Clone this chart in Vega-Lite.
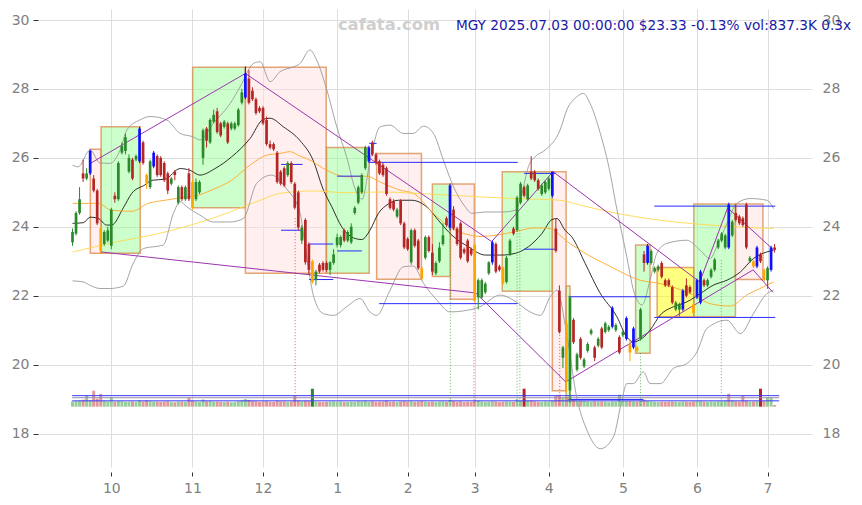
{
"$schema":"https://vega.github.io/schema/vega-lite/v6.json",
"width":774,"height":458,
"autosize":{"type":"none"},
"padding":{"left":38,"top":9,"right":50,"bottom":38},
"background":"white",
"config":{"view":{"stroke":null},"axis":{"labelColor":"#808080","labelFontSize":14,"labelFont":"DejaVu Sans","gridColor":"#dddddd","domain":false,"tickColor":"#333333","title":null},"scale":{"continuousPadding":0}},
"datasets":{
"cd":[
{"i":0,"o":23.55,"h":23.95,"l":23.45,"c":23.85,"t":"u","v":2.6,"vc":"g"},
{"i":1,"o":23.8,"h":24.45,"l":23.75,"c":24.4,"t":"u","v":2.8,"vc":"g"},
{"i":2,"o":24.4,"h":25.15,"l":24.35,"c":24.8,"t":"u","v":3.0,"vc":"g"},
{"i":3,"o":25.55,"h":25.95,"l":25.3,"c":25.4,"t":"d","v":3.5,"vc":"r"},
{"i":4,"o":25.4,"h":25.7,"l":25.35,"c":25.55,"t":"u","v":5.6,"vc":"g"},
{"i":5,"o":25.55,"h":26.25,"l":25.5,"c":26.2,"t":"b","v":3.2,"vc":"g"},
{"i":6,"o":25.4,"h":25.5,"l":25.0,"c":25.05,"t":"d","v":8.0,"vc":"r"},
{"i":7,"o":25.05,"h":25.1,"l":24.05,"c":24.1,"t":"d","v":4.0,"vc":"r"},
{"i":8,"o":23.95,"h":24.0,"l":23.23,"c":23.3,"t":"o","v":6.4,"vc":"r"},
{"i":9,"o":23.5,"h":23.9,"l":23.45,"c":23.85,"t":"u","v":3.0,"vc":"g"},
{"i":10,"o":23.6,"h":24.0,"l":23.55,"c":23.9,"t":"u","v":2.6,"vc":"g"},
{"i":11,"o":23.45,"h":24.55,"l":23.35,"c":24.5,"t":"u","v":4.8,"vc":"g"},
{"i":12,"o":24.9,"h":25.0,"l":24.7,"c":24.8,"t":"d","v":2.5,"vc":"r"},
{"i":13,"o":24.8,"h":25.9,"l":24.75,"c":25.85,"t":"u","v":2.8,"vc":"g"},
{"i":14,"o":26.15,"h":26.45,"l":26.1,"c":26.35,"t":"u","v":2.7,"vc":"g"},
{"i":15,"o":26.2,"h":26.7,"l":26.1,"c":26.6,"t":"u","v":2.4,"vc":"g"},
{"i":16,"o":25.6,"h":26.1,"l":25.55,"c":26.0,"t":"u","v":2.5,"vc":"g"},
{"i":17,"o":25.95,"h":26.0,"l":25.35,"c":25.4,"t":"d","v":2.6,"vc":"r"},
{"i":18,"o":25.95,"h":26.1,"l":25.9,"c":26.05,"t":"u","v":2.3,"vc":"g"},
{"i":19,"o":25.9,"h":26.9,"l":25.85,"c":26.85,"t":"b","v":3.1,"vc":"g"},
{"i":20,"o":26.45,"h":26.5,"l":25.8,"c":25.85,"t":"d","v":2.6,"vc":"r"},
{"i":21,"o":25.5,"h":25.55,"l":25.1,"c":25.25,"t":"o","v":3.2,"vc":"r"},
{"i":22,"o":25.15,"h":25.95,"l":25.1,"c":25.9,"t":"u","v":2.7,"vc":"g"},
{"i":23,"o":25.75,"h":26.2,"l":25.7,"c":26.15,"t":"b","v":2.5,"vc":"g"},
{"i":24,"o":26.05,"h":26.1,"l":25.45,"c":25.5,"t":"d","v":2.6,"vc":"r"},
{"i":25,"o":26.0,"h":26.05,"l":25.45,"c":25.5,"t":"d","v":2.4,"vc":"r"},
{"i":26,"o":25.85,"h":25.9,"l":25.3,"c":25.35,"t":"d","v":2.5,"vc":"r"},
{"i":27,"o":25.55,"h":25.6,"l":24.95,"c":25.05,"t":"d","v":2.7,"vc":"r"},
{"i":28,"o":25.25,"h":25.45,"l":25.2,"c":25.4,"t":"u","v":2.3,"vc":"g"},
{"i":29,"o":25.6,"h":25.65,"l":25.35,"c":25.5,"t":"d","v":2.2,"vc":"r"},
{"i":30,"o":24.7,"h":25.2,"l":24.65,"c":25.15,"t":"u","v":2.6,"vc":"g"},
{"i":31,"o":25.15,"h":25.2,"l":24.75,"c":24.8,"t":"d","v":2.5,"vc":"r"},
{"i":32,"o":24.8,"h":25.2,"l":24.75,"c":25.15,"t":"u","v":2.4,"vc":"g"},
{"i":33,"o":25.55,"h":25.7,"l":24.75,"c":24.8,"t":"d","v":4.4,"vc":"r"},
{"i":34,"o":25.3,"h":25.35,"l":24.5,"c":24.55,"t":"o","v":3.0,"vc":"r"},
{"i":35,"o":24.8,"h":25.4,"l":24.75,"c":25.3,"t":"u","v":2.6,"vc":"g"},
{"i":36,"o":25.0,"h":25.35,"l":24.95,"c":25.3,"t":"u","v":2.4,"vc":"g"},
{"i":37,"o":26.0,"h":26.85,"l":25.8,"c":26.8,"t":"u","v":3.6,"vc":"g"},
{"i":38,"o":26.85,"h":26.9,"l":26.3,"c":26.5,"t":"d","v":2.7,"vc":"r"},
{"i":39,"o":26.45,"h":27.15,"l":26.4,"c":27.1,"t":"u","v":2.8,"vc":"g"},
{"i":40,"o":27.05,"h":27.4,"l":27.0,"c":27.25,"t":"u","v":2.5,"vc":"g"},
{"i":41,"o":27.35,"h":27.45,"l":26.7,"c":26.75,"t":"d","v":2.6,"vc":"r"},
{"i":42,"o":27.0,"h":27.05,"l":26.6,"c":26.65,"t":"d","v":2.4,"vc":"r"},
{"i":43,"o":26.9,"h":27.1,"l":26.85,"c":27.05,"t":"u","v":2.3,"vc":"g"},
{"i":44,"o":27.0,"h":27.05,"l":26.4,"c":26.45,"t":"d","v":2.5,"vc":"r"},
{"i":45,"o":26.85,"h":27.05,"l":26.8,"c":27.0,"t":"u","v":2.2,"vc":"g"},
{"i":46,"o":26.85,"h":27.05,"l":26.8,"c":27.0,"t":"u","v":2.3,"vc":"g"},
{"i":47,"o":26.95,"h":27.45,"l":26.9,"c":27.4,"t":"u","v":2.7,"vc":"g"},
{"i":48,"o":27.6,"h":28.0,"l":27.55,"c":27.9,"t":"u","v":3.1,"vc":"g"},
{"i":49,"o":27.75,"h":28.65,"l":27.7,"c":28.45,"t":"b","v":3.8,"vc":"g"},
{"i":50,"o":28.3,"h":28.55,"l":27.55,"c":27.6,"t":"d","v":3.4,"vc":"r"},
{"i":51,"o":27.95,"h":28.05,"l":27.65,"c":27.7,"t":"d","v":2.8,"vc":"r"},
{"i":52,"o":27.7,"h":27.75,"l":27.25,"c":27.3,"t":"d","v":2.7,"vc":"r"},
{"i":53,"o":27.45,"h":27.5,"l":27.3,"c":27.35,"t":"d","v":2.4,"vc":"r"},
{"i":54,"o":27.45,"h":27.5,"l":26.95,"c":27.0,"t":"d","v":2.6,"vc":"r"},
{"i":55,"o":27.1,"h":27.2,"l":26.35,"c":26.4,"t":"d","v":2.8,"vc":"r"},
{"i":56,"o":26.4,"h":26.5,"l":26.25,"c":26.3,"t":"d","v":2.5,"vc":"r"},
{"i":57,"o":26.4,"h":26.45,"l":26.2,"c":26.25,"t":"d","v":2.4,"vc":"r"},
{"i":58,"o":26.15,"h":26.2,"l":25.25,"c":25.3,"t":"d","v":3.0,"vc":"r"},
{"i":59,"o":25.6,"h":25.65,"l":25.2,"c":25.25,"t":"d","v":2.6,"vc":"r"},
{"i":60,"o":25.7,"h":25.75,"l":25.15,"c":25.2,"t":"d","v":2.7,"vc":"r"},
{"i":61,"o":25.5,"h":25.9,"l":25.45,"c":25.85,"t":"u","v":2.4,"vc":"g"},
{"i":62,"o":25.85,"h":25.9,"l":25.25,"c":25.3,"t":"d","v":2.6,"vc":"r"},
{"i":63,"o":25.25,"h":25.3,"l":24.5,"c":24.55,"t":"d","v":5.5,"vc":"r"},
{"i":64,"o":25.0,"h":25.05,"l":23.9,"c":23.98,"t":"d","v":3.0,"vc":"r"},
{"i":65,"o":23.6,"h":24.05,"l":23.5,"c":23.98,"t":"u","v":2.7,"vc":"g"},
{"i":66,"o":24.2,"h":24.25,"l":22.9,"c":22.97,"t":"d","v":2.9,"vc":"r"},
{"i":67,"o":23.5,"h":23.55,"l":22.6,"c":22.75,"t":"d","v":2.8,"vc":"r"},
{"i":68,"o":23.0,"h":23.05,"l":22.35,"c":22.4,"t":"o","v":9.0,"vc":"G"},
{"i":69,"o":22.45,"h":22.75,"l":22.3,"c":22.7,"t":"u","v":2.5,"vc":"g"},
{"i":70,"o":22.9,"h":22.95,"l":22.65,"c":22.7,"t":"d","v":2.4,"vc":"r"},
{"i":71,"o":22.95,"h":23.0,"l":22.7,"c":22.75,"t":"d","v":2.3,"vc":"r"},
{"i":72,"o":22.95,"h":23.0,"l":22.7,"c":22.75,"t":"d","v":2.4,"vc":"r"},
{"i":73,"o":22.75,"h":23.0,"l":22.6,"c":22.97,"t":"u","v":2.5,"vc":"g"},
{"i":74,"o":22.95,"h":23.35,"l":22.9,"c":23.2,"t":"u","v":2.6,"vc":"g"},
{"i":75,"o":23.47,"h":23.8,"l":23.4,"c":23.7,"t":"u","v":2.4,"vc":"g"},
{"i":76,"o":23.47,"h":23.75,"l":23.4,"c":23.7,"t":"u","v":2.6,"vc":"g"},
{"i":77,"o":23.9,"h":23.95,"l":23.55,"c":23.6,"t":"d","v":2.3,"vc":"r"},
{"i":78,"o":23.6,"h":23.9,"l":23.55,"c":23.85,"t":"u","v":2.4,"vc":"g"},
{"i":79,"o":23.55,"h":24.1,"l":23.5,"c":24.0,"t":"u","v":2.5,"vc":"g"},
{"i":80,"o":24.4,"h":24.6,"l":24.35,"c":24.55,"t":"u","v":2.4,"vc":"g"},
{"i":81,"o":24.7,"h":25.2,"l":24.65,"c":25.15,"t":"u","v":2.7,"vc":"g"},
{"i":82,"o":25.0,"h":25.55,"l":24.95,"c":25.5,"t":"u","v":2.6,"vc":"g"},
{"i":83,"o":25.7,"h":26.35,"l":25.65,"c":26.3,"t":"u","v":2.8,"vc":"g"},
{"i":84,"o":25.9,"h":26.35,"l":25.85,"c":26.3,"t":"b","v":2.5,"vc":"g"},
{"i":85,"o":26.45,"h":26.5,"l":26.05,"c":26.1,"t":"d","v":2.7,"vc":"r"},
{"i":86,"o":26.1,"h":26.15,"l":25.8,"c":25.85,"t":"d","v":2.4,"vc":"r"},
{"i":87,"o":25.9,"h":25.95,"l":25.5,"c":25.55,"t":"d","v":2.5,"vc":"r"},
{"i":88,"o":25.8,"h":25.85,"l":25.45,"c":25.5,"t":"d","v":2.6,"vc":"r"},
{"i":89,"o":25.7,"h":25.75,"l":24.9,"c":24.95,"t":"d","v":3.0,"vc":"r"},
{"i":90,"o":24.8,"h":24.85,"l":24.5,"c":24.55,"t":"d","v":2.4,"vc":"r"},
{"i":91,"o":24.75,"h":24.8,"l":24.45,"c":24.5,"t":"d","v":2.5,"vc":"r"},
{"i":92,"o":24.3,"h":24.55,"l":24.25,"c":24.5,"t":"u","v":2.3,"vc":"g"},
{"i":93,"o":24.75,"h":24.8,"l":24.05,"c":24.1,"t":"d","v":2.6,"vc":"r"},
{"i":94,"o":24.1,"h":24.15,"l":23.35,"c":23.4,"t":"d","v":2.8,"vc":"r"},
{"i":95,"o":23.65,"h":23.7,"l":23.3,"c":23.35,"t":"d","v":2.5,"vc":"r"},
{"i":96,"o":22.97,"h":23.95,"l":22.9,"c":23.9,"t":"u","v":2.7,"vc":"g"},
{"i":97,"o":23.9,"h":23.95,"l":23.4,"c":23.45,"t":"d","v":2.4,"vc":"r"},
{"i":98,"o":23.6,"h":23.65,"l":22.75,"c":22.8,"t":"d","v":2.6,"vc":"r"},
{"i":99,"o":22.8,"h":22.85,"l":22.45,"c":22.5,"t":"o","v":2.8,"vc":"r"},
{"i":100,"o":23.1,"h":23.75,"l":23.05,"c":23.7,"t":"u","v":2.5,"vc":"g"},
{"i":101,"o":23.7,"h":23.75,"l":23.25,"c":23.3,"t":"d","v":2.4,"vc":"r"},
{"i":102,"o":23.25,"h":23.5,"l":22.6,"c":22.7,"t":"d","v":2.6,"vc":"r"},
{"i":103,"o":22.65,"h":23.0,"l":22.6,"c":22.95,"t":"u","v":2.3,"vc":"g"},
{"i":104,"o":23.0,"h":23.55,"l":22.95,"c":23.4,"t":"u","v":2.5,"vc":"g"},
{"i":105,"o":23.5,"h":24.1,"l":23.45,"c":23.75,"t":"u","v":2.6,"vc":"g"},
{"i":106,"o":24.25,"h":24.3,"l":24.0,"c":24.05,"t":"d","v":2.4,"vc":"r"},
{"i":107,"o":23.97,"h":25.25,"l":23.9,"c":25.2,"t":"b","v":3.4,"vc":"g"},
{"i":108,"o":24.5,"h":24.6,"l":23.9,"c":23.95,"t":"d","v":2.8,"vc":"r"},
{"i":109,"o":23.95,"h":24.0,"l":23.45,"c":23.5,"t":"d","v":2.5,"vc":"r"},
{"i":110,"o":24.1,"h":24.15,"l":23.05,"c":23.1,"t":"d","v":2.7,"vc":"r"},
{"i":111,"o":23.35,"h":23.4,"l":23.2,"c":23.25,"t":"d","v":2.3,"vc":"r"},
{"i":112,"o":23.6,"h":23.65,"l":22.95,"c":23.0,"t":"d","v":2.5,"vc":"r"},
{"i":113,"o":23.35,"h":23.4,"l":23.15,"c":23.2,"t":"d","v":2.4,"vc":"r"},
{"i":114,"o":23.47,"h":23.5,"l":21.8,"c":21.87,"t":"o","v":3.2,"vc":"r"},
{"i":115,"o":21.95,"h":22.5,"l":21.6,"c":22.45,"t":"u","v":3.0,"vc":"g"},
{"i":116,"o":21.95,"h":22.5,"l":21.9,"c":22.45,"t":"u","v":2.6,"vc":"g"},
{"i":117,"o":22.1,"h":22.4,"l":22.05,"c":22.35,"t":"u","v":2.4,"vc":"g"},
{"i":118,"o":22.65,"h":23.0,"l":22.6,"c":22.97,"t":"u","v":2.5,"vc":"g"},
{"i":119,"o":22.97,"h":23.6,"l":22.9,"c":23.55,"t":"b","v":2.7,"vc":"g"},
{"i":120,"o":23.5,"h":23.55,"l":22.65,"c":22.7,"t":"d","v":2.6,"vc":"r"},
{"i":121,"o":22.85,"h":22.9,"l":22.7,"c":22.75,"t":"d","v":2.3,"vc":"r"},
{"i":122,"o":22.82,"h":22.85,"l":22.3,"c":22.36,"t":"o","v":2.5,"vc":"r"},
{"i":123,"o":22.4,"h":23.15,"l":22.35,"c":23.1,"t":"u","v":2.6,"vc":"g"},
{"i":124,"o":23.2,"h":23.65,"l":23.15,"c":23.6,"t":"u","v":2.5,"vc":"g"},
{"i":125,"o":23.95,"h":24.0,"l":23.75,"c":23.8,"t":"d","v":2.4,"vc":"r"},
{"i":126,"o":23.9,"h":24.9,"l":23.85,"c":24.85,"t":"u","v":3.6,"vc":"g"},
{"i":127,"o":24.7,"h":25.3,"l":24.65,"c":25.25,"t":"u","v":3.0,"vc":"g"},
{"i":128,"o":25.15,"h":25.2,"l":24.85,"c":24.9,"t":"d","v":9.0,"vc":"R"},
{"i":129,"o":24.8,"h":25.25,"l":24.75,"c":25.2,"t":"u","v":3.0,"vc":"g"},
{"i":130,"o":25.6,"h":26.05,"l":25.35,"c":25.4,"t":"d","v":3.2,"vc":"r"},
{"i":131,"o":25.6,"h":25.65,"l":25.3,"c":25.35,"t":"d","v":2.7,"vc":"r"},
{"i":132,"o":25.35,"h":25.4,"l":25.05,"c":25.1,"t":"d","v":2.5,"vc":"r"},
{"i":133,"o":24.95,"h":25.25,"l":24.9,"c":25.2,"t":"u","v":2.4,"vc":"g"},
{"i":134,"o":25.0,"h":25.35,"l":24.95,"c":25.3,"t":"u","v":2.6,"vc":"g"},
{"i":135,"o":25.1,"h":25.45,"l":25.05,"c":25.4,"t":"u","v":2.5,"vc":"g"},
{"i":136,"o":24.9,"h":25.6,"l":24.85,"c":25.6,"t":"b","v":3.0,"vc":"g"},
{"i":137,"o":23.95,"h":24.25,"l":23.25,"c":23.3,"t":"d","v":5.5,"vc":"r"},
{"i":138,"o":22.15,"h":22.3,"l":20.9,"c":20.95,"t":"d","v":6.0,"vc":"r"},
{"i":139,"o":20.2,"h":20.55,"l":19.9,"c":20.5,"t":"u","v":4.5,"vc":"g"},
{"i":140,"o":21.2,"h":21.3,"l":19.2,"c":19.55,"t":"o","v":5.0,"vc":"r"},
{"i":141,"o":19.25,"h":22.0,"l":18.9,"c":21.95,"t":"u","v":5.5,"vc":"g"},
{"i":142,"o":21.3,"h":21.35,"l":20.6,"c":20.65,"t":"d","v":3.5,"vc":"r"},
{"i":143,"o":19.85,"h":20.35,"l":19.8,"c":20.3,"t":"u","v":3.2,"vc":"g"},
{"i":144,"o":20.75,"h":20.8,"l":20.15,"c":20.2,"t":"d","v":3.0,"vc":"r"},
{"i":145,"o":19.95,"h":20.2,"l":19.9,"c":20.15,"t":"u","v":2.8,"vc":"g"},
{"i":146,"o":20.4,"h":20.65,"l":20.35,"c":20.6,"t":"u","v":2.6,"vc":"g"},
{"i":147,"o":20.9,"h":21.05,"l":20.85,"c":21.0,"t":"u","v":2.5,"vc":"g"},
{"i":148,"o":20.5,"h":20.55,"l":20.1,"c":20.2,"t":"d","v":2.7,"vc":"r"},
{"i":149,"o":20.55,"h":20.8,"l":20.5,"c":20.75,"t":"u","v":2.5,"vc":"g"},
{"i":150,"o":21.05,"h":21.1,"l":20.45,"c":20.5,"t":"d","v":2.6,"vc":"r"},
{"i":151,"o":20.95,"h":21.25,"l":20.9,"c":21.2,"t":"u","v":2.4,"vc":"g"},
{"i":152,"o":21.0,"h":21.15,"l":20.95,"c":21.1,"t":"u","v":2.3,"vc":"g"},
{"i":153,"o":21.1,"h":21.7,"l":21.05,"c":21.65,"t":"b","v":2.6,"vc":"g"},
{"i":154,"o":21.0,"h":21.2,"l":20.95,"c":21.15,"t":"u","v":2.5,"vc":"g"},
{"i":155,"o":20.8,"h":20.85,"l":20.3,"c":20.35,"t":"d","v":6.0,"vc":"g"},
{"i":156,"o":20.85,"h":21.0,"l":20.8,"c":20.95,"t":"u","v":3.0,"vc":"g"},
{"i":157,"o":20.75,"h":21.4,"l":20.7,"c":21.35,"t":"b","v":2.7,"vc":"g"},
{"i":158,"o":20.6,"h":20.75,"l":20.1,"c":20.35,"t":"o","v":2.8,"vc":"r"},
{"i":159,"o":20.5,"h":21.1,"l":20.45,"c":21.05,"t":"b","v":2.6,"vc":"g"},
{"i":160,"o":20.5,"h":20.55,"l":20.35,"c":20.4,"t":"o","v":2.5,"vc":"r"},
{"i":161,"o":20.75,"h":21.65,"l":20.7,"c":21.6,"t":"u","v":3.0,"vc":"g"},
{"i":162,"o":23.2,"h":23.3,"l":22.7,"c":22.95,"t":"d","v":3.5,"vc":"r"},
{"i":163,"o":22.95,"h":23.5,"l":22.9,"c":23.45,"t":"b","v":2.8,"vc":"g"},
{"i":164,"o":22.95,"h":23.35,"l":22.9,"c":23.3,"t":"u","v":2.6,"vc":"g"},
{"i":165,"o":22.7,"h":22.85,"l":22.65,"c":22.8,"t":"u","v":2.4,"vc":"g"},
{"i":166,"o":22.75,"h":22.9,"l":22.7,"c":22.85,"t":"u","v":2.3,"vc":"g"},
{"i":167,"o":22.95,"h":23.0,"l":22.5,"c":22.55,"t":"d","v":2.5,"vc":"r"},
{"i":168,"o":22.45,"h":22.5,"l":22.25,"c":22.3,"t":"d","v":2.4,"vc":"r"},
{"i":169,"o":22.45,"h":22.5,"l":22.25,"c":22.3,"t":"d","v":2.5,"vc":"r"},
{"i":170,"o":22.25,"h":22.3,"l":21.75,"c":21.8,"t":"d","v":2.6,"vc":"r"},
{"i":171,"o":21.6,"h":21.85,"l":21.55,"c":21.8,"t":"u","v":2.4,"vc":"g"},
{"i":172,"o":21.6,"h":21.8,"l":21.4,"c":21.75,"t":"u","v":2.3,"vc":"g"},
{"i":173,"o":21.6,"h":22.2,"l":21.55,"c":22.15,"t":"b","v":2.6,"vc":"g"},
{"i":174,"o":22.3,"h":22.5,"l":21.95,"c":22.0,"t":"d","v":2.5,"vc":"r"},
{"i":175,"o":22.25,"h":22.3,"l":22.05,"c":22.1,"t":"d","v":2.4,"vc":"r"},
{"i":176,"o":21.75,"h":21.8,"l":21.45,"c":21.5,"t":"o","v":2.6,"vc":"r"},
{"i":177,"o":21.95,"h":22.5,"l":21.9,"c":22.45,"t":"b","v":2.7,"vc":"g"},
{"i":178,"o":21.8,"h":22.75,"l":21.75,"c":22.7,"t":"b","v":2.8,"vc":"g"},
{"i":179,"o":22.45,"h":22.5,"l":22.25,"c":22.3,"t":"d","v":2.5,"vc":"r"},
{"i":180,"o":22.3,"h":22.5,"l":22.25,"c":22.45,"t":"u","v":2.4,"vc":"g"},
{"i":181,"o":22.55,"h":22.8,"l":22.5,"c":22.75,"t":"u","v":2.6,"vc":"g"},
{"i":182,"o":22.75,"h":23.1,"l":22.7,"c":23.05,"t":"u","v":2.5,"vc":"g"},
{"i":183,"o":23.4,"h":23.65,"l":23.35,"c":23.6,"t":"u","v":2.7,"vc":"g"},
{"i":184,"o":23.6,"h":23.85,"l":23.55,"c":23.8,"t":"u","v":2.6,"vc":"g"},
{"i":185,"o":23.4,"h":23.8,"l":23.35,"c":23.75,"t":"u","v":2.8,"vc":"g"},
{"i":186,"o":23.4,"h":24.7,"l":23.35,"c":24.65,"t":"b","v":6.5,"vc":"r"},
{"i":187,"o":23.75,"h":24.2,"l":23.7,"c":24.15,"t":"u","v":3.0,"vc":"g"},
{"i":188,"o":24.4,"h":24.65,"l":24.15,"c":24.2,"t":"d","v":2.7,"vc":"r"},
{"i":189,"o":24.3,"h":24.35,"l":24.05,"c":24.1,"t":"d","v":2.6,"vc":"r"},
{"i":190,"o":24.25,"h":24.3,"l":24.0,"c":24.05,"t":"d","v":5.5,"vc":"r"},
{"i":191,"o":24.65,"h":24.7,"l":23.35,"c":23.4,"t":"d","v":3.0,"vc":"r"},
{"i":192,"o":23.0,"h":23.15,"l":22.95,"c":23.1,"t":"u","v":2.5,"vc":"g"},
{"i":193,"o":23.0,"h":23.05,"l":22.8,"c":22.85,"t":"o","v":2.6,"vc":"r"},
{"i":194,"o":22.85,"h":23.45,"l":22.8,"c":23.4,"t":"b","v":2.7,"vc":"g"},
{"i":195,"o":23.2,"h":23.25,"l":22.95,"c":23.0,"t":"d","v":9.0,"vc":"R"},
{"i":196,"o":22.75,"h":22.8,"l":22.4,"c":22.45,"t":"o","v":2.8,"vc":"r"},
{"i":197,"o":22.45,"h":22.85,"l":22.2,"c":22.8,"t":"u","v":4.5,"vc":"g"},
{"i":198,"o":22.75,"h":23.45,"l":22.7,"c":23.4,"t":"b","v":4.5,"vc":"g"},
{"i":199,"o":23.4,"h":23.5,"l":23.25,"c":23.33,"t":"d","v":0.84,"vc":"r"}
],
"bx":[
{"t":"p","i1":5.05,"i2":8.1,"p1":23.23,"p2":26.25},
{"t":"g","i1":8.1,"i2":19.2,"p1":23.23,"p2":26.9},
{"t":"g","i1":34.05,"i2":49.0,"p1":24.55,"p2":28.63},
{"t":"p","i1":49.0,"i2":71.9,"p1":22.65,"p2":28.63},
{"t":"g","i1":72.0,"i2":84.1,"p1":22.65,"p2":26.3},
{"t":"p","i1":86.2,"i2":98.9,"p1":22.48,"p2":26.13},
{"t":"g","i1":102.0,"i2":107.1,"p1":22.56,"p2":25.24},
{"t":"p","i1":107.1,"i2":113.9,"p1":21.9,"p2":25.24},
{"t":"g","i1":121.8,"i2":136.0,"p1":22.13,"p2":25.6},
{"t":"p","i1":136.0,"i2":139.9,"p1":19.24,"p2":25.6},
{"t":"g","i1":139.9,"i2":141.0,"p1":19.0,"p2":22.28},
{"t":"g","i1":159.6,"i2":163.7,"p1":20.33,"p2":23.47},
{"t":"y","i1":165.7,"i2":176.1,"p1":21.39,"p2":22.82},
{"t":"g","i1":176.1,"i2":187.9,"p1":21.39,"p2":24.66},
{"t":"p","i1":187.9,"i2":195.7,"p1":22.47,"p2":24.66}
],
"ln":[
{"s":"k","i":0,"p":24.1},{"s":"k","i":3.1,"p":24.12},{"s":"k","i":5,"p":24.28},{"s":"k","i":7.2,"p":24.25},{"s":"k","i":9.7,"p":24.05},{"s":"k","i":11.1,"p":24.05},{"s":"k","i":14.4,"p":24.55},{"s":"k","i":16.8,"p":24.97},{"s":"k","i":20.6,"p":25.22},{"s":"k","i":22.5,"p":25.35},{"s":"k","i":26.2,"p":25.38},{"s":"k","i":30.5,"p":25.69},{"s":"k","i":33.3,"p":25.64},{"s":"k","i":36.1,"p":25.5},{"s":"k","i":40.4,"p":25.69},{"s":"k","i":45.1,"p":26.03},{"s":"k","i":50.3,"p":26.56},{"s":"k","i":54.1,"p":27.12},{"s":"k","i":56,"p":27.15},{"s":"k","i":59.8,"p":26.9},{"s":"k","i":64.5,"p":26.5},{"s":"k","i":68.2,"p":25.93},{"s":"k","i":71,"p":25.1},{"s":"k","i":73.5,"p":24.58},{"s":"k","i":76.3,"p":24.0},{"s":"k","i":80.1,"p":23.66},{"s":"k","i":82,"p":23.63},{"s":"k","i":84.3,"p":23.9},{"s":"k","i":86.7,"p":24.39},{"s":"k","i":89.5,"p":24.66},{"s":"k","i":92.4,"p":24.77},{"s":"k","i":96.2,"p":24.77},{"s":"k","i":99,"p":24.68},{"s":"k","i":101.4,"p":24.48},{"s":"k","i":103.7,"p":24.19},{"s":"k","i":107.5,"p":23.76},{"s":"k","i":112.2,"p":23.42},{"s":"k","i":117,"p":23.18},{"s":"k","i":121.7,"p":23.18},{"s":"k","i":125.5,"p":23.23},{"s":"k","i":129.2,"p":23.42},{"s":"k","i":133,"p":23.8},{"s":"k","i":135.9,"p":24.21},{"s":"k","i":137.3,"p":24.24},{"s":"k","i":139.6,"p":23.9},{"s":"k","i":141.5,"p":23.71},{"s":"k","i":145.3,"p":22.94},{"s":"k","i":149.4,"p":22.1},{"s":"k","i":154.3,"p":21.39},{"s":"k","i":157.1,"p":20.8},{"s":"k","i":159,"p":20.66},{"s":"k","i":161.4,"p":20.76},{"s":"k","i":163.7,"p":21.0},{"s":"k","i":166.6,"p":21.44},{"s":"k","i":170.3,"p":21.68},{"s":"k","i":174.1,"p":21.82},{"s":"k","i":177.9,"p":22.06},{"s":"k","i":181.7,"p":22.31},{"s":"k","i":185.5,"p":22.45},{"s":"k","i":189.3,"p":22.69},{"s":"k","i":193,"p":23.08},{"s":"k","i":196.8,"p":23.27},{"s":"k","i":198.7,"p":23.32},
{"s":"o","i":0,"p":24.68},{"s":"o","i":7.3,"p":24.68},{"s":"o","i":11.1,"p":24.48},{"s":"o","i":16.8,"p":24.45},{"s":"o","i":21.5,"p":24.68},{"s":"o","i":26.2,"p":24.77},{"s":"o","i":31,"p":24.85},{"s":"o","i":35.7,"p":24.92},{"s":"o","i":40.4,"p":25.11},{"s":"o","i":45.1,"p":25.35},{"s":"o","i":50.3,"p":25.79},{"s":"o","i":55.1,"p":26.08},{"s":"o","i":58.8,"p":26.13},{"s":"o","i":61.7,"p":26.18},{"s":"o","i":64.5,"p":26.05},{"s":"o","i":66.4,"p":25.98},{"s":"o","i":72.1,"p":25.64},{"s":"o","i":77.7,"p":25.45},{"s":"o","i":83.4,"p":25.47},{"s":"o","i":87.2,"p":25.3},{"s":"o","i":92.9,"p":25.06},{"s":"o","i":96.6,"p":24.97},{"s":"o","i":102.3,"p":24.39},{"s":"o","i":106.1,"p":24.05},{"s":"o","i":111.8,"p":23.78},{"s":"o","i":115.5,"p":23.72},{"s":"o","i":120.3,"p":23.76},{"s":"o","i":125.5,"p":23.86},{"s":"o","i":131.1,"p":23.97},{"s":"o","i":135.4,"p":23.95},{"s":"o","i":137.7,"p":23.8},{"s":"o","i":139.2,"p":23.66},{"s":"o","i":143.9,"p":23.32},{"s":"o","i":152.4,"p":22.85},{"s":"o","i":160.9,"p":22.45},{"s":"o","i":166.6,"p":22.35},{"s":"o","i":176,"p":22.02},{"s":"o","i":180.7,"p":21.77},{"s":"o","i":186.4,"p":21.7},{"s":"o","i":191.1,"p":22.02},{"s":"o","i":195.9,"p":22.26},{"s":"o","i":198.7,"p":22.4},
{"s":"y","i":0,"p":23.27},{"s":"y","i":10.6,"p":23.52},{"s":"y","i":26.7,"p":23.86},{"s":"y","i":40.9,"p":24.29},{"s":"y","i":53.2,"p":24.77},{"s":"y","i":58.8,"p":24.97},{"s":"y","i":68.2,"p":25.04},{"s":"y","i":77.7,"p":24.99},{"s":"y","i":87.2,"p":25.01},{"s":"y","i":106.1,"p":24.92},{"s":"y","i":125,"p":24.82},{"s":"y","i":138.2,"p":24.77},{"s":"y","i":143.9,"p":24.63},{"s":"y","i":152.4,"p":24.43},{"s":"y","i":166.6,"p":24.19},{"s":"y","i":180.7,"p":24.05},{"s":"y","i":198.7,"p":23.95},
{"s":"u","i":0,"p":25.79},{"s":"u","i":1.6,"p":25.74},{"s":"u","i":5,"p":26.23},{"s":"u","i":7.8,"p":25.85},{"s":"u","i":10.6,"p":25.84},{"s":"u","i":13.5,"p":26.23},{"s":"u","i":15.4,"p":26.81},{"s":"u","i":19.1,"p":27.1},{"s":"u","i":22,"p":27.2},{"s":"u","i":26.7,"p":27.1},{"s":"u","i":30.5,"p":26.71},{"s":"u","i":34.2,"p":26.61},{"s":"u","i":36.1,"p":26.52},{"s":"u","i":39.9,"p":27.0},{"s":"u","i":44.7,"p":27.58},{"s":"u","i":47.5,"p":28.06},{"s":"u","i":51.3,"p":28.74},{"s":"u","i":53.2,"p":28.79},{"s":"u","i":56,"p":28.21},{"s":"u","i":58.8,"p":28.5},{"s":"u","i":62.6,"p":28.64},{"s":"u","i":64.5,"p":28.74},{"s":"u","i":67.3,"p":29.13},{"s":"u","i":69.2,"p":28.84},{"s":"u","i":72.1,"p":27.97},{"s":"u","i":74.9,"p":26.9},{"s":"u","i":77.7,"p":26.03},{"s":"u","i":80.1,"p":25.1},{"s":"u","i":82.1,"p":24.8},{"s":"u","i":84.3,"p":25.9},{"s":"u","i":87.2,"p":26.9},{"s":"u","i":90,"p":26.95},{"s":"u","i":93.8,"p":26.71},{"s":"u","i":96.6,"p":26.71},{"s":"u","i":99.5,"p":26.92},{"s":"u","i":102.3,"p":26.71},{"s":"u","i":105.1,"p":25.94},{"s":"u","i":108,"p":25.16},{"s":"u","i":111.3,"p":24.58},{"s":"u","i":113.2,"p":24.39},{"s":"u","i":117,"p":24.43},{"s":"u","i":121.7,"p":24.43},{"s":"u","i":125.5,"p":24.48},{"s":"u","i":127.4,"p":24.97},{"s":"u","i":129.2,"p":25.74},{"s":"u","i":131.1,"p":26.03},{"s":"u","i":134,"p":26.23},{"s":"u","i":138.2,"p":26.81},{"s":"u","i":140.1,"p":27.39},{"s":"u","i":142.9,"p":27.77},{"s":"u","i":144.8,"p":27.87},{"s":"u","i":146.7,"p":27.58},{"s":"u","i":149.6,"p":26.71},{"s":"u","i":152.4,"p":25.55},{"s":"u","i":153.8,"p":24.77},{"s":"u","i":157.1,"p":23.13},{"s":"u","i":159,"p":22.16},{"s":"u","i":161.4,"p":21.73},{"s":"u","i":163.7,"p":22.45},{"s":"u","i":165.6,"p":23.23},{"s":"u","i":168.5,"p":23.52},{"s":"u","i":174.1,"p":23.61},{"s":"u","i":177.9,"p":23.32},{"s":"u","i":180.7,"p":23.08},{"s":"u","i":182.6,"p":23.42},{"s":"u","i":185.5,"p":24.1},{"s":"u","i":188.3,"p":24.68},{"s":"u","i":192.1,"p":24.82},{"s":"u","i":196.8,"p":24.77},{"s":"u","i":198.7,"p":24.53},
{"s":"l","i":0,"p":22.43},{"s":"l","i":3.1,"p":22.4},{"s":"l","i":5,"p":22.3},{"s":"l","i":7.8,"p":22.21},{"s":"l","i":10.6,"p":22.21},{"s":"l","i":14.4,"p":22.28},{"s":"l","i":17.2,"p":22.94},{"s":"l","i":20.1,"p":23.37},{"s":"l","i":25.7,"p":23.47},{"s":"l","i":28.6,"p":24.39},{"s":"l","i":30.5,"p":24.73},{"s":"l","i":32.4,"p":24.58},{"s":"l","i":36.1,"p":24.34},{"s":"l","i":39.9,"p":24.14},{"s":"l","i":44.6,"p":24.14},{"s":"l","i":48.4,"p":24.24},{"s":"l","i":52.2,"p":25.26},{"s":"l","i":56.4,"p":25.5},{"s":"l","i":60.7,"p":25.1},{"s":"l","i":64.5,"p":24.4},{"s":"l","i":66,"p":23.4},{"s":"l","i":68.3,"p":22.0},{"s":"l","i":71.1,"p":21.48},{"s":"l","i":74,"p":21.43},{"s":"l","i":77.7,"p":21.68},{"s":"l","i":81.5,"p":21.92},{"s":"l","i":84.3,"p":21.53},{"s":"l","i":86.2,"p":21.43},{"s":"l","i":90,"p":22.16},{"s":"l","i":93.8,"p":22.84},{"s":"l","i":96.6,"p":22.86},{"s":"l","i":99.5,"p":22.36},{"s":"l","i":103.3,"p":21.87},{"s":"l","i":107,"p":21.53},{"s":"l","i":110.8,"p":21.56},{"s":"l","i":115.5,"p":21.68},{"s":"l","i":121.2,"p":22.02},{"s":"l","i":125,"p":21.87},{"s":"l","i":129.7,"p":21.53},{"s":"l","i":132.6,"p":21.43},{"s":"l","i":135.4,"p":21.97},{"s":"l","i":137.3,"p":22.16},{"s":"l","i":139.9,"p":21.0},{"s":"l","i":142.9,"p":19.06},{"s":"l","i":145.8,"p":18.1},{"s":"l","i":149.6,"p":17.56},{"s":"l","i":153.3,"p":17.9},{"s":"l","i":155.7,"p":18.96},{"s":"l","i":157.1,"p":19.45},{"s":"l","i":159,"p":19.45},{"s":"l","i":161.8,"p":19.79},{"s":"l","i":163.7,"p":19.45},{"s":"l","i":166.6,"p":19.45},{"s":"l","i":170.3,"p":19.89},{"s":"l","i":174.1,"p":20.03},{"s":"l","i":177,"p":20.37},{"s":"l","i":179.8,"p":21.05},{"s":"l","i":185.5,"p":21.29},{"s":"l","i":189.3,"p":20.9},{"s":"l","i":193,"p":21.48},{"s":"l","i":196.8,"p":22.06},{"s":"l","i":198.7,"p":22.16}
],
"zz":[
{"z":"a","i":5.05,"p":25.84},{"z":"a","i":49.0,"p":28.45},{"z":"a","i":118.8,"p":23.57},{"z":"a","i":136.2,"p":25.6},{"z":"a","i":177.8,"p":22.4},{"z":"a","i":185.7,"p":24.55},{"z":"a","i":198.5,"p":23.35},
{"z":"b","i":8.1,"p":23.27},{"z":"b","i":114.3,"p":22.08},{"z":"b","i":139.8,"p":19.5},{"z":"b","i":192.9,"p":22.75},{"z":"b","i":198.5,"p":22.1}
],
"hs":[
{"i1":59.1,"i2":65.2,"p":25.81},{"i1":59.1,"i2":65.2,"p":23.9},
{"i1":67.1,"i2":73.9,"p":23.5},{"i1":67.1,"i2":73.9,"p":22.47},
{"i1":75.0,"i2":82.0,"p":25.47},{"i1":75.0,"i2":82.0,"p":23.3},
{"i1":84.1,"i2":86.2,"p":26.42},{"i1":84.1,"i2":126.2,"p":25.87},
{"i1":86.9,"i2":126.1,"p":21.77},
{"i1":128.0,"i2":137.0,"p":25.55},{"i1":128.0,"i2":137.0,"p":23.35},
{"i1":140.6,"i2":163.7,"p":21.97},{"i1":140.6,"i2":161.8,"p":18.99},
{"i1":164.9,"i2":199.2,"p":24.6},{"i1":164.9,"i2":199.2,"p":21.37}
],
"vd":[
{"i":63.1,"p1":24.25,"p2":18.8,"c":"r"},
{"i":107.1,"p1":24.0,"p2":18.8,"c":"g"},
{"i":113.8,"p1":21.87,"p2":18.8,"c":"r"},
{"i":126.0,"p1":23.8,"p2":18.8,"c":"g"},
{"i":126.8,"p1":23.9,"p2":18.8,"c":"g"},
{"i":138.1,"p1":20.95,"p2":18.8,"c":"r"},
{"i":161.0,"p1":20.33,"p2":18.8,"c":"g"},
{"i":183.9,"p1":23.03,"p2":18.8,"c":"g"}
],
"vm":[
{"i1":-0.1,"i2":200.3,"p":19.1,"c":"b"},
{"i1":-0.1,"i2":200.3,"p":19.04,"c":"m"},
{"i1":-0.1,"i2":200.3,"p":18.95,"c":"b"}
],
"tx":[
{"i":89.7,"p":29.855,"s":"cafata.com","k":"w"},
{"i":220.7,"p":29.826,"s":"MGY 2025.07.03 00:00:00 $23.33 -0.13% vol:837.3K 0.3x","k":"t"}
]
},
"resolve":{"scale":{"y":"independent","color":"independent","fill":"independent"}},
"layer":[
{
"data":{"name":"cd"},
"mark":{"type":"bar","size":3},
"encoding":{
"x":{"field":"i","type":"quantitative","scale":{"domain":[-9.78,209.6],"nice":false,"zero":false,"padding":0},"title":null,
"axis":{"values":[11,34,54,75,95,114,135,156,177,197],"labelExpr":"['10','11','12','1','2','3','4','5','6','7'][indexof([11,34,54,75,95,114,135,156,177,197], datum.value)]","grid":true,"ticks":true,"tickSize":4,"offset":5,"labelPadding":5,"domain":false}},
"y":{"field":"v","type":"quantitative","scale":{"domain":[-30.15,198.85],"nice":false,"zero":false},"axis":null},
"y2":{"datum":0},
"color":{"field":"vc","type":"nominal","scale":{"domain":["g","r","G","R"],"range":["#98cc98","#e09a9a","#2a8a2a","#b52525"]},"legend":null}
}
},
{
"resolve":{"scale":{"color":"independent","fill":"independent"}},
"layer":[
{
"data":{"name":"bx"},
"mark":{"type":"rect","fillOpacity":0.5,"stroke":"#d9884a","strokeOpacity":0.75,"strokeWidth":1.5},
"encoding":{
"x":{"field":"i1","type":"quantitative","scale":{"domain":[-9.78,209.6],"nice":false,"zero":false,"padding":0},"title":null},
"x2":{"field":"i2"},
"y":{"field":"p1","type":"quantitative","scale":{"domain":[17.03,30.32],"nice":false,"zero":false},"title":null,
"axis":{"orient":"left","values":[18,20,22,24,26,28,30],"grid":true,"ticks":true,"tickSize":5,"labelPadding":4,"domain":false}},
"y2":{"field":"p2"},
"fill":{"field":"t","type":"nominal","scale":{"domain":["g","p","y"],"range":["#99ff99","#ffe0e0","#ffff00"]},"legend":null}
}
},
{
"data":{"name":"vm"},
"mark":{"type":"rule","strokeWidth":1},
"encoding":{
"x":{"field":"i1","type":"quantitative","scale":{"domain":[-9.78,209.6],"nice":false,"zero":false,"padding":0},"title":null},
"x2":{"field":"i2"},
"y":{"field":"p","type":"quantitative","scale":{"domain":[17.03,30.32],"nice":false,"zero":false},"title":null},
"color":{"field":"c","type":"nominal","scale":{"domain":["b","m"],"range":["#3a3aff","#9a8aa8"]},"legend":null}
}
},
{
"data":{"name":"ln"},
"mark":{"type":"line","strokeWidth":0.9,"interpolate":"monotone"},
"encoding":{
"x":{"field":"i","type":"quantitative","scale":{"domain":[-9.78,209.6],"nice":false,"zero":false,"padding":0},"title":null},
"y":{"field":"p","type":"quantitative","scale":{"domain":[17.03,30.32],"nice":false,"zero":false},"title":null},
"detail":{"field":"s","type":"nominal"},
"color":{"field":"s","type":"nominal","scale":{"domain":["k","o","y","u","l"],"range":["#1a1a1a","#ffa726","#ffd84d","#9a9a9a","#9a9a9a"]},"legend":null}
}
},
{
"data":{"name":"vd"},
"mark":{"type":"rule","strokeWidth":0.8,"strokeDash":[1,2]},
"encoding":{
"x":{"field":"i","type":"quantitative","scale":{"domain":[-9.78,209.6],"nice":false,"zero":false,"padding":0},"title":null},
"y":{"field":"p1","type":"quantitative","scale":{"domain":[17.03,30.32],"nice":false,"zero":false},"title":null},
"y2":{"field":"p2"},
"color":{"field":"c","type":"nominal","scale":{"domain":["r","g"],"range":["#c04040","#40a040"]},"legend":null}
}
},
{
"data":{"name":"hs"},
"mark":{"type":"rule","strokeWidth":1,"color":"#2a2aff"},
"encoding":{
"x":{"field":"i1","type":"quantitative","scale":{"domain":[-9.78,209.6],"nice":false,"zero":false,"padding":0},"title":null},
"x2":{"field":"i2"},
"y":{"field":"p","type":"quantitative","scale":{"domain":[17.03,30.32],"nice":false,"zero":false},"title":null}
}
},
{
"data":{"name":"zz"},
"mark":{"type":"line","strokeWidth":1,"color":"#9c35b0"},
"encoding":{
"x":{"field":"i","type":"quantitative","scale":{"domain":[-9.78,209.6],"nice":false,"zero":false,"padding":0},"title":null},
"y":{"field":"p","type":"quantitative","scale":{"domain":[17.03,30.32],"nice":false,"zero":false},"title":null},
"detail":{"field":"z","type":"nominal"}
}
},
{
"data":{"name":"cd"},
"mark":{"type":"rule","strokeWidth":1},
"encoding":{
"x":{"field":"i","type":"quantitative","scale":{"domain":[-9.78,209.6],"nice":false,"zero":false,"padding":0},"title":null},
"y":{"field":"l","type":"quantitative","scale":{"domain":[17.03,30.32],"nice":false,"zero":false},"title":null},
"y2":{"field":"h"},
"color":{"field":"t","type":"nominal","scale":{"domain":["u","d","b","o"],"range":["#2a8a2a","#b52525","#1010ff","#ffa500"]},"legend":null}
}
},
{
"data":{"name":"cd"},
"mark":{"type":"bar","size":2.7},
"encoding":{
"x":{"field":"i","type":"quantitative","scale":{"domain":[-9.78,209.6],"nice":false,"zero":false,"padding":0},"title":null},
"y":{"field":"o","type":"quantitative","scale":{"domain":[17.03,30.32],"nice":false,"zero":false},"title":null},
"y2":{"field":"c"},
"color":{"field":"t","type":"nominal","scale":{"domain":["u","d","b","o"],"range":["#2a8a2a","#b52525","#1010ff","#ffa500"]},"legend":null}
}
},
{
"data":{"name":"tx"},
"transform":[{"filter":"datum.k == 'w'"}],
"mark":{"type":"text","font":"DejaVu Sans","fontWeight":"bold","fontSize":16.4,"color":"#cfcfcf","align":"center","baseline":"middle"},
"encoding":{
"x":{"field":"i","type":"quantitative","scale":{"domain":[-9.78,209.6],"nice":false,"zero":false,"padding":0},"title":null},
"y":{"field":"p","type":"quantitative","scale":{"domain":[17.03,30.32],"nice":false,"zero":false},"title":null},
"text":{"field":"s"}
}
},
{
"data":{"name":"tx"},
"transform":[{"filter":"datum.k == 't'"}],
"mark":{"type":"text","font":"DejaVu Sans","fontSize":13.7,"color":"#1a1aa6","align":"right","baseline":"middle"},
"encoding":{
"x":{"field":"i","type":"quantitative","scale":{"domain":[-9.78,209.6],"nice":false,"zero":false,"padding":0},"title":null},
"y":{"field":"p","type":"quantitative","scale":{"domain":[17.03,30.32],"nice":false,"zero":false},"title":null},
"text":{"field":"s"}
}
}
]
},
{
"data":{"name":"vm"},
"mark":{"type":"rule","opacity":0},
"encoding":{
"x":{"field":"i1","type":"quantitative","scale":{"domain":[-9.78,209.6],"nice":false,"zero":false,"padding":0},"title":null},
"x2":{"field":"i2"},
"y":{"field":"p","type":"quantitative","scale":{"domain":[17.03,30.32],"nice":false,"zero":false},"title":null,
"axis":{"orient":"right","values":[18,20,22,24,26,28,30],"grid":false,"ticks":false,"labelPadding":10,"domain":false}}
}
}
]
}
